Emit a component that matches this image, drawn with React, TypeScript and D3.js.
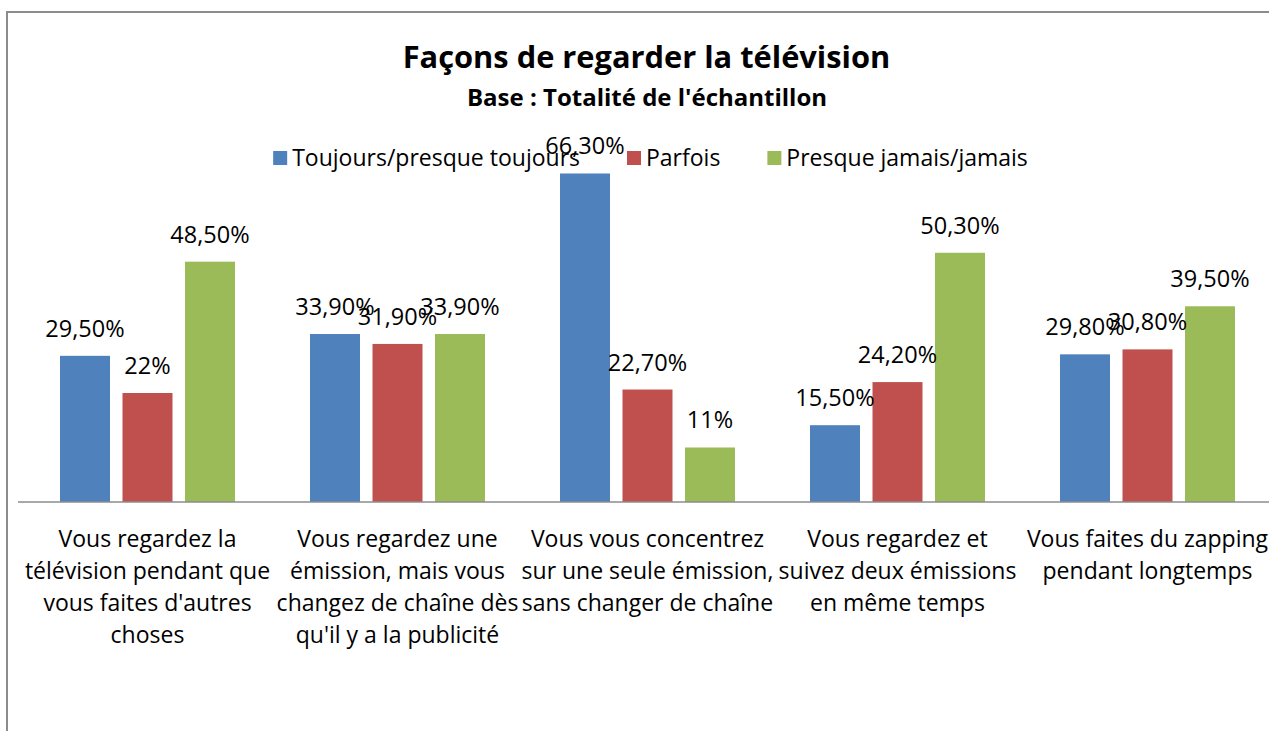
import React, { useEffect, useRef } from "react";
import * as d3 from "d3";

const categories = [
  "Vous regardez la télévision pendant que vous faites d'autres choses",
  "Vous regardez une émission, mais vous changez de chaîne dès qu'il y a la publicité",
  "Vous vous concentrez sur une seule émission, sans changer de chaîne",
  "Vous regardez et suivez deux émissions en même temps",
  "Vous faites du zapping pendant longtemps",
];
const categoryLines = [
  ["Vous regardez la", "télévision pendant que", "vous faites d'autres", "choses"],
  ["Vous regardez une", "émission, mais vous", "changez de chaîne dès", "qu'il y a la publicité"],
  ["Vous vous concentrez", "sur une seule émission,", "sans changer de chaîne"],
  ["Vous regardez et", "suivez deux émissions", "en même temps"],
  ["Vous faites du zapping", "pendant longtemps"],
];
const seriesNames = ["Toujours/presque toujours", "Parfois", "Presque jamais/jamais"];
const toujours = [29.5, 33.9, 66.3, 15.5, 29.8];
const parfois = [22, 31.9, 22.7, 24.2, 30.8];
const jamais = [48.5, 33.9, 11, 50.3, 39.5];
const colors = ["#4F81BD", "#C0504D", "#9BBB59"];
const title = "Façons de regarder la télévision";
const subtitle = "Base : Totalité de l'échantillon";

const W = 1269;
const H = 731;
const FONT = "'Open Sans', sans-serif";

function fmt(v: number) {
  return Number.isInteger(v) ? `${v}%` : `${v.toFixed(2).replace(".", ",")}%`;
}

export default function App() {
  const ref = useRef<SVGSVGElement>(null);
  useEffect(() => {
    const svg = d3.select(ref.current);
    svg.selectAll("*").remove();
    const series = [toujours, parfois, jamais];

    svg.append("rect").attr("width", W).attr("height", H).attr("fill", "#fff");
    // frame
    svg.append("path").attr("d", `M7,${H} V12 H${W}`).attr("fill", "none").attr("stroke", "#8c8c8c").attr("stroke-width", 2);

    const x = d3.scaleBand<string>().domain(categories).range([22.5, 1272.5]).padding(0);
    const xs = d3.scaleBand<number>().domain([0, 1, 2]).range([37.5, 212.5]).paddingInner(0.2).paddingOuter(0);
    const y = d3.scaleLinear().domain([0, 70]).range([502, 502 - 70 * 4.955]);

    // title
    svg.append("text").attr("x", 646.5).attr("y", 68).attr("text-anchor", "middle")
      .attr("font-family", FONT).attr("font-weight", "bold").attr("font-size", 30.8).attr("fill", "#000").text(title);
    svg.append("text").attr("x", 647).attr("y", 105.5).attr("text-anchor", "middle")
      .attr("font-family", FONT).attr("font-weight", "bold").attr("font-size", 24).attr("fill", "#000").text(subtitle);

    // bars
    categories.forEach((c, i) => {
      series.forEach((s, k) => {
        const bx = (x(c) as number) + (xs(k) as number);
        svg.append("rect").attr("x", bx).attr("y", y(s[i])).attr("width", xs.bandwidth())
          .attr("height", y(0) - y(s[i])).attr("fill", colors[k]);
      });
    });

    // axis line
    svg.append("line").attr("x1", 18).attr("x2", W).attr("y1", 502).attr("y2", 502)
      .attr("stroke", "#8c8c8c").attr("stroke-width", 1.5);

    // category labels
    categories.forEach((c, i) => {
      const cx = (x(c) as number) + x.bandwidth() / 2;
      const t = svg.append("text").attr("text-anchor", "middle").attr("font-family", FONT)
        .attr("font-size", 23).attr("fill", "#000");
      categoryLines[i].forEach((ln, j) => {
        t.append("tspan").attr("x", cx).attr("y", 546.5 + j * 32).text(ln);
      });
    });

    // legend
    const lg = svg.append("g");
    let lx = 0;
    seriesNames.forEach((n, k) => {
      lg.append("rect").attr("x", lx).attr("y", 151).attr("width", 14).attr("height", 14).attr("fill", colors[k]);
      const t = lg.append("text").attr("x", lx + 19).attr("y", 165.5).attr("font-family", FONT)
        .attr("font-size", 23).attr("fill", "#000").text(n);
      const w = (t.node() as SVGTextElement).getComputedTextLength();
      lx += 19 + w + (k < seriesNames.length - 1 ? 47 : 0);
    });
    lg.attr("transform", `translate(${650.5 - lx / 2},0)`);

    // value labels
    categories.forEach((c, i) => {
      series.forEach((s, k) => {
        const bx = (x(c) as number) + (xs(k) as number) + xs.bandwidth() / 2;
        svg.append("text").attr("x", bx).attr("y", y(s[i]) - 19).attr("text-anchor", "middle")
          .attr("font-family", FONT).attr("font-size", 23.5).attr("fill", "#000").text(fmt(s[i]));
      });
    });
  }, []);
  return (
    <svg ref={ref} width={W} height={H} style={{ position: "absolute", left: 0, top: 0 }} />
  );
}
